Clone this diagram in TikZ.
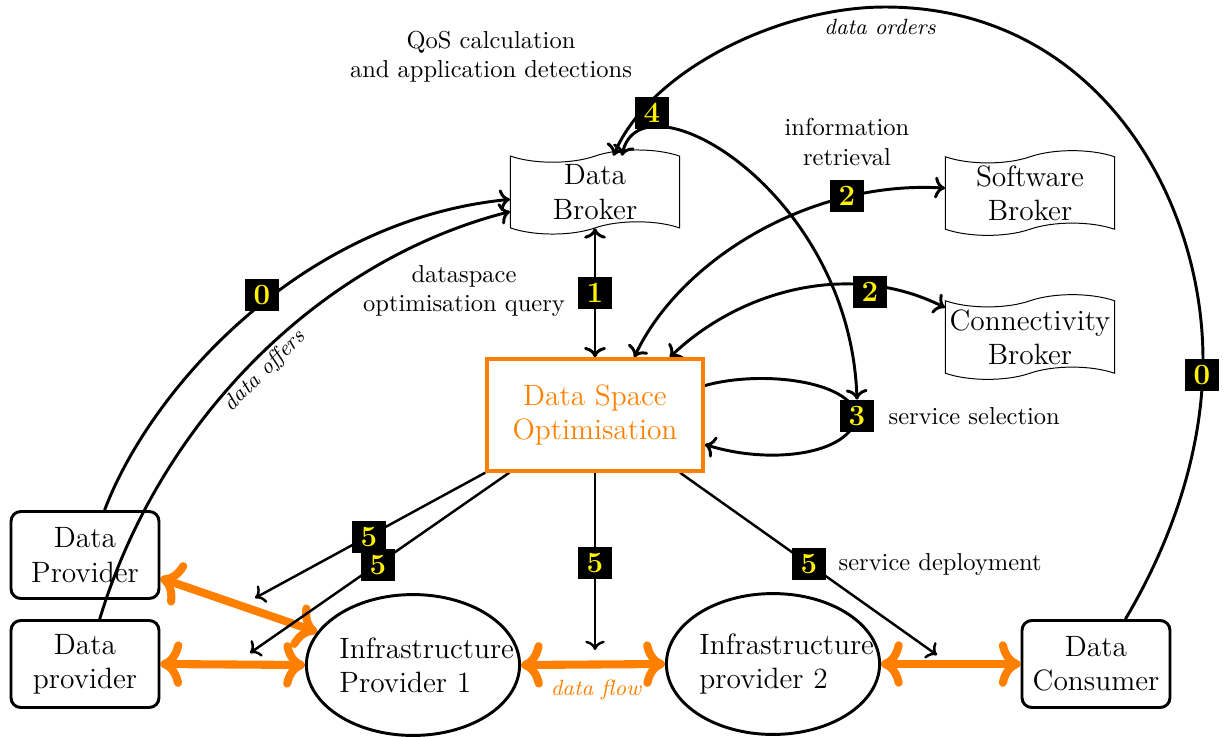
\documentclass[tikz,border=0pt]{standalone}
\usetikzlibrary{shapes.symbols,shapes.geometric,backgrounds,arrows.meta}
\begin{document}
\begin{tikzpicture}[x=0.01435cm,y=-0.01435cm,
  badge/.style={fill=black,text=yellow,font=\large\bfseries,inner sep=0pt,minimum width=13.5pt,minimum height=13pt},
  broker/.style={tape,draw,thin,minimum width=69pt,minimum height=32.5pt,align=center,font=\large,inner sep=1pt},
  actor/.style={draw,very thick,rounded corners=4pt,minimum width=60.4pt,minimum height=35.5pt,align=center,font=\large},
  infra/.style={ellipse,draw,very thick,inner sep=0pt,minimum width=87pt,minimum height=57.5pt,text width=60pt,align=left,font=\large},
  optim/.style={draw=orange,line width=1.6pt,text=orange,minimum width=88pt,minimum height=45.5pt,align=center,font=\large},
  conn/.style={very thick},
  deploy/.style={line width=1pt,->},
  flow/.style={draw=orange,line width=3.3pt,line cap=round,
    {Computer Modern Rightarrow[scale=1.0]}-{Computer Modern Rightarrow[scale=1.0]}},
  note/.style={align=center}
]
\useasboundingbox (0,0) rectangle (1226,736);

% brokers
\node[broker] (DB) at (595,192) {Data\\Broker};
\node[broker] (SB) at (1030,193) {Software\\Broker};
\node[broker] (CB) at (1030,337) {Connectivity\\Broker};

% optimiser
\node[optim] (DSO) at (595,415) {Data Space\\Optimisation};

% providers, infrastructure and consumer
\node[actor] (DP) at (85,555) {Data\\Provider};
\node[actor] (Dp2) at (85,664) {Data\\provider};
\node[infra] (IP1) at (413,665) {\mbox{Infrastructure}\\Provider 1};
\node[infra] (IP2) at (773,664) {\mbox{Infrastructure}\\provider 2};
\node[actor] (DC) at (1096,664) {Data\\Consumer};

% step badges
\node[badge] (B0a) at (262,295) {0};
\node[badge] (B0b) at (1202,375) {0};
\node[badge] (B1) at (595,293) {1};
\node[badge] (B2a) at (847,196) {2};
\node[badge] (B2b) at (870,292) {2};
\node[badge] (B3) at (857,416) {3};
\node[badge] (B4) at (652,113) {4};
\node[badge] (B5a) at (369,537) {5};
\node[badge] (B5b) at (378,565) {5};
\node[badge] (B5c) at (595,563) {5};
\node[badge] (B5d) at (809,564) {5};

% free ends of the deployment arrows
\coordinate (e5a) at (255,598);
\coordinate (e5b) at (250,653);
\coordinate (e5c) at (595,650);
\coordinate (e5d) at (937,655);

% captions
\node[note] (qos) at (491,57) {QoS calculation\\and application detections};
\node[note] (info) at (847,142) {information\\retrieval};
\node[note] (dq) at (464,291) {dataspace\\optimisation query};
\node[anchor=west] (ssel) at (880,416) {service selection};
\node[anchor=west] (sdep) at (830,564) {service deployment};
\node[font=\small\itshape] (ord) at (880,27) {data orders};
\node[font=\small\itshape,rotate=45] (off) at (265,371) {data offers};
\node[font=\small\itshape,text=orange] (dflow) at (596,690) {data flow};

\begin{pgfonlayer}{background}
  % data flows
  \draw[flow] (DP.-17) -- (IP1);
  \draw[flow] (Dp2.east) -- (IP1.west);
  \draw[flow] (IP1.east) -- (IP2.west);
  \draw[flow] (IP2.east) -- (DC.west);

  % data offers
  \draw[conn,->] ([xshift=8pt]DP.north) .. controls (150,390) and (300,220) .. ([yshift=-3pt]DB.west);
  \draw[conn,->] ([xshift=6pt]Dp2.north) .. controls (160,420) and (320,260) .. ([yshift=-8pt]DB.west);

  % data orders
  \draw[conn,->] ([xshift=12pt]DC.north) .. controls (1172,541) and (1203,450) .. (1203,360)
     .. controls (1203,195) and (1095,7) .. (885,7)
     .. controls (780,7) and (650,70) .. ([xshift=7.5pt]DB.north);

  % query
  \draw[conn,<->] (DB.south) -- (DSO.north);

  % information retrieval
  \draw[conn,<->] ([xshift=16pt]DSO.north) .. controls (680,260) and (810,180) .. ([yshift=2pt]SB.west);
  \draw[conn,<->] ([xshift=30.5pt]DSO.north) .. controls (740,290) and (850,260) .. ([yshift=12pt]CB.west);

  % service selection loop
  \draw[conn] (DSO.15) .. controls (760,370) and (850,380) .. (B3.center);
  \draw[conn,->] (B3.center) .. controls (850,455) and (770,465) .. (DSO.-15);

  % QoS calculation
  \draw[conn,<->] ([xshift=11pt]DB.north) .. controls (640,70) and (850,190) .. (B3.north);

  % service deployment
  \draw[deploy] (DSO.south west) -- (e5a);
  \draw[deploy] ([xshift=-35pt]DSO.south) -- (e5b);
  \draw[deploy] (DSO.south) -- (e5c);
  \draw[deploy] ([xshift=34.7pt]DSO.south) -- (e5d);
\end{pgfonlayer}
\end{tikzpicture}
\end{document}
